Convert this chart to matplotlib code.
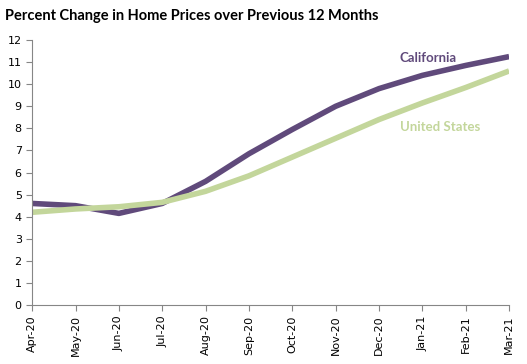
import numpy as np
import matplotlib.pyplot as plt

months = ["Apr-20", "May-20", "Jun-20", "Jul-20", "Aug-20", "Sep-20",
          "Oct-20", "Nov-20", "Dec-20", "Jan-21", "Feb-21", "Mar-21"]
california = [4.6, 4.5, 4.15, 4.6, 5.6, 6.85, 7.95, 9.0, 9.8, 10.4, 10.85, 11.25]
united_states = [4.2, 4.35, 4.45, 4.65, 5.15, 5.85, 6.7, 7.55, 8.4, 9.15, 9.85, 10.6]

purple = "#604a7b"
green = "#c3d69b"

fig = plt.figure(figsize=(5.27, 3.64), dpi=100)
ax = fig.add_axes([0.061, 0.162, 0.905, 0.728])

x = np.arange(len(months))
ax.plot(x, california, color=purple, lw=4, solid_capstyle="butt")
ax.plot(x, united_states, color=green, lw=4, solid_capstyle="butt")

ax.text(9.12, 11.18, "California", color=purple, fontsize=9.5, fontweight="bold",
        family="Lato", ha="center", va="center")
ax.text(9.4, 8.05, "United States", color=green, fontsize=9.5, fontweight="bold",
        family="Lato", ha="center", va="center")

ax.set_xlim(0, len(months) - 1)
ax.set_ylim(0, 12)
ax.set_yticks(range(13))
ax.set_xticks(x)
ax.set_xticklabels(months, rotation=90)
ax.tick_params(labelsize=8, direction="out", length=4, color="#868686", width=0.8)
for s in ["top", "right"]:
    ax.spines[s].set_visible(False)
for s in ["left", "bottom"]:
    ax.spines[s].set_color("#868686")
    ax.spines[s].set_linewidth(0.8)

fig.text(0.01, 0.955, "Percent Change in Home Prices over Previous 12 Months",
         fontsize=10.5, fontweight="bold", family="Lato", va="center")

fig.savefig("out.png", dpi=100)
